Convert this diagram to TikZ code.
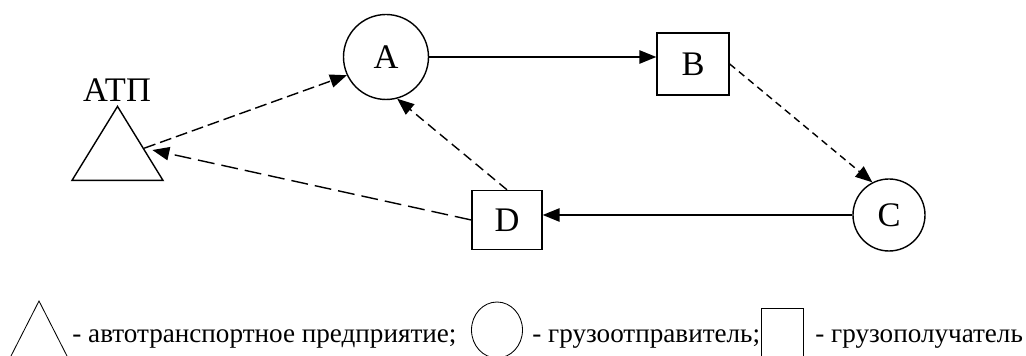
\documentclass[tikz,border=0pt]{standalone}
\usepackage{fontspec}
\setmainfont{Liberation Serif}
\usetikzlibrary{shapes.geometric,arrows.meta,calc}

\begin{document}
\begin{tikzpicture}[>={Triangle[length=12pt,width=9.5pt]},line width=1pt]
  \tikzstyle{point}=[circle,draw,inner sep=0pt,font=\fontsize{24.5}{26}\selectfont]
  \tikzstyle{stop}=[rectangle,draw,inner sep=0pt,font=\fontsize{24.5}{26}\selectfont]
  \tikzstyle{legend}=[inner sep=0pt,anchor=base west,font=\fontsize{19.3}{21}\selectfont]

  \useasboundingbox (0,0) rectangle (25.65,8.9);

  \foreach \name/\x/\y/\size in {A/9.65/7.475/2.125cm, C/22.225/3.525/1.8cm}
    \node[point,minimum size=\size] (\name) at (\x,\y) {\name};

  \foreach \name/\x/\y/\w/\h in {B/17.325/7.3/1.8cm/1.55cm, D/12.675/3.4/1.75cm/1.475cm}
    \node[stop,minimum width=\w,minimum height=\h] (\name) at (\x,\y) {\name};

  \node[isosceles triangle,isosceles triangle stretches,shape border rotate=90,draw,
        minimum width=2.275cm,minimum height=1.85cm,inner sep=0pt] (ATP) at (2.9375,5.025) {};
  \node[font=\fontsize{24.5}{26}\selectfont] (ATP-label) at (2.925,6.65) {АТП};
  \coordinate (ATP-r) at ($(ATP.apex)!0.57!(ATP.right corner)$);

  \draw[->] (A.east) -- (A.east -| B.west);
  \draw[->] (C.west) -- (C.west -| D.east);
  \draw[->,dash pattern=on 5pt off 3.5pt] (B.east) -- (C.117);
  \draw[->,dash pattern=on 7pt off 4pt] (D.north) -- (A.-75);
  \draw[->,dash pattern=on 8.5pt off 3.5pt] (ATP-r) -- (A.205);
  \draw[->,dash pattern=on 12pt off 5pt,shorten >=6pt] (D.west) -- (ATP-r);

  % legend
  \begin{scope}[line width=0.6pt]
    \draw (0.275,0) -- (0.975,1.375) -- (1.675,0);
    \node[legend] (L-1) at (1.8,0.325) {- автотранспортное предприятие;};
    \node[ellipse,draw,minimum width=1.275cm,minimum height=1.4cm] (L-circle) at (12.425,0.65) {};
    \node[legend] (L-2) at (13.3,0.325) {- грузоотправитель;};
    \node[rectangle,draw,minimum width=1.05cm,minimum height=1.5cm] (L-box) at (19.55,0.45) {};
    \node[legend] (L-3) at (20.375,0.325) {- грузополучатель};
  \end{scope}
\end{tikzpicture}
\end{document}
